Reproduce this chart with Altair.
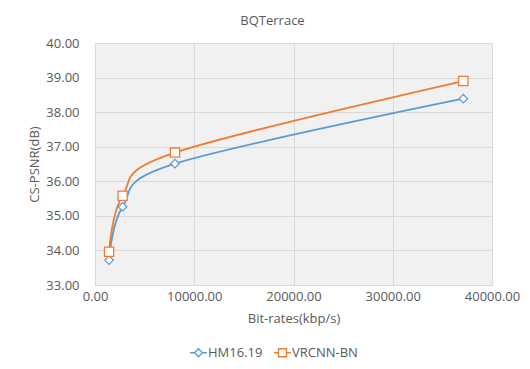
import altair as alt
import pandas as pd

series_names = ["HM16.19", "VRCNN-BN"]
rates = [1420, 2780, 8060, 37110]
hm_psnr = [33.72, 35.26, 36.51, 38.39]
vrcnn_psnr = [33.96, 35.58, 36.83, 38.90]
colors = ["#5B9BD5", "#ED7D31"]
x_ticks = [0, 10000, 20000, 30000, 40000]
y_ticks = [33, 34, 35, 36, 37, 38, 39, 40]

rows = []
for r, v in zip(rates, hm_psnr):
    rows.append({"rate": r, "psnr": v, "series": series_names[0]})
for r, v in zip(rates, vrcnn_psnr):
    rows.append({"rate": r, "psnr": v, "series": series_names[1]})
df = pd.DataFrame(rows)

FONT = "Open Sans"
TXT = "#595959"

x_axis = alt.Axis(values=x_ticks, format=".2f", title="Bit-rates(kbp/s)", titlePadding=9,
                  labelPadding=5, labelOverlap=False, labelFlush=False, tickCount=5)
y_axis = alt.Axis(values=y_ticks, format=".2f", title="CS-PSNR(dB)", titlePadding=4,
                  labelPadding=16, labelOverlap=False, labelFlush=False, tickCount=8)
x_scale = alt.Scale(domain=[0, 40000], nice=False)
y_scale = alt.Scale(domain=[33, 40], nice=False, zero=False)
stroke_scale = alt.Scale(domain=series_names, range=colors)


def xe():
    return alt.X("rate:Q", scale=x_scale, axis=x_axis)


def ye():
    return alt.Y("psnr:Q", scale=y_scale, axis=y_axis)


base = alt.Chart(df)

diamond_path = "M-2.1,0L-1,0M-1,0L0,-1L1,0L0,1Z M1,0L2.1,0"
square_path = "M-2.1,0L-1,0M-1,-1L1,-1L1,1L-1,1Z M1,0L2.1,0"

leg = alt.Legend(
    orient="none", legendX=97, legendY=303, direction="horizontal", title=None,
    symbolSize=64, symbolFillColor="white", symbolStrokeWidth=1.3, symbolOpacity=1,
    labelFont=FONT, labelFontSize=13, labelColor=TXT, labelOffset=3,
    columnPadding=8, padding=0,
)

legend_layer = base.mark_point(
    filled=True, fill="white", size=64, strokeWidth=1.3, opacity=0
).encode(
    x=xe(), y=ye(),
    stroke=alt.Stroke("series:N", scale=stroke_scale, legend=leg),
    shape=alt.Shape("series:N", scale=alt.Scale(domain=series_names, range=[diamond_path, square_path]),
                    legend=leg),
)

lines = base.mark_line(interpolate="cardinal", tension=0, strokeWidth=1.8).encode(
    x=xe(), y=ye(),
    stroke=alt.Stroke("series:N", scale=stroke_scale),
)

pts_hm = base.transform_filter(alt.datum.series == series_names[0]).mark_point(
    shape="diamond", filled=True, fill="white", size=72, strokeWidth=1.3, opacity=1
).encode(
    x=xe(), y=ye(),
    stroke=alt.Stroke("series:N", scale=stroke_scale),
)

pts_vr = base.transform_filter(alt.datum.series == series_names[1]).mark_point(
    shape="square", filled=True, fill="white", size=85, strokeWidth=1.3, opacity=1
).encode(
    x=xe(), y=ye(),
    stroke=alt.Stroke("series:N", scale=stroke_scale),
)

chart = alt.layer(legend_layer, lines, pts_hm, pts_vr).properties(
    width=397, height=242,
    background="white",
    title=alt.TitleParams("BQTerrace", font=FONT, fontSize=13, fontWeight="normal",
                          color=TXT, offset=9, dx=-21),
    autosize=alt.AutoSizeParams(type="none"),
    padding={"left": 87, "top": 35, "right": 30, "bottom": 76},
).configure_view(
    fill="#f1f1f1", stroke="#d9d9d9"
).configure_axis(
    grid=True, gridColor="#d9d9d9", gridWidth=1, domain=False, ticks=False,
    labelFont=FONT, labelFontSize=13, labelColor=TXT,
    titleFont=FONT, titleFontSize=13, titleColor=TXT, titleFontWeight="normal",
)

chart.save("out.html", embed_options={"renderer": "svg", "actions": False})
